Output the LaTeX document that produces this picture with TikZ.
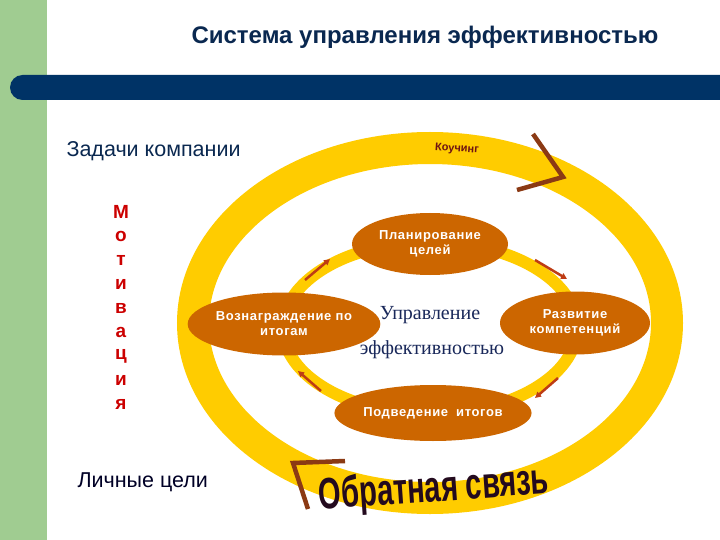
\documentclass[tikz,border=0pt]{standalone}
\usepackage{fontspec}
\setmainfont{Liberation Sans}
\newfontfamily\serifru{Liberation Serif}
\newfontfamily\spacedfont{Liberation Sans}[LetterSpace=5]
\usetikzlibrary{arrows.meta,shapes.geometric}
\definecolor{ringyellow}{RGB}{255,204,0}
\definecolor{nodeorange}{RGB}{204,102,0}
\definecolor{chevbrown}{RGB}{139,58,20}
\definecolor{arrowred}{RGB}{190,60,20}
\definecolor{titleblue}{RGB}{10,40,80}
\definecolor{barblue}{RGB}{0,51,102}
\definecolor{stripgreen}{RGB}{160,204,145}
\definecolor{motivred}{RGB}{204,0,0}
\definecolor{centerblue}{RGB}{25,40,90}
\definecolor{fbdark}{RGB}{35,10,30}
\definecolor{coachred}{RGB}{110,20,20}
\begin{document}
\begin{tikzpicture}[x=1pt,y=-1pt,
  ell/.style={ellipse, fill=nodeorange, text=white, inner sep=0pt, align=center,
    font=\spacedfont\bfseries\fontsize{13}{15}\selectfont},
  chevron/.style={chevbrown, line width=4.5pt},
  ringarrow/.style={arrowred, line width=2.5pt, -{Triangle[length=6pt,width=6pt]}},
  lefttext/.style={text=titleblue, font=\fontsize{21.5}{21.5}\selectfont},
  motiv/.style={text=motivred, font=\bfseries\fontsize{19}{19}\selectfont}]
\useasboundingbox (0,0) rectangle (720,540);
\fill[white] (0,0) rectangle (720,540);
\fill[stripgreen] (0,0) rectangle (47,540);
\fill[barblue, rounded corners=12.5pt] (10,75) rectangle (760,100);
\node[text=titleblue, font=\bfseries\fontsize{24}{24}\selectfont] (title) at (425,37) {Система управления эффективностью};
% outer ring
\draw[ringyellow, line width=32pt] (430,323) ellipse [x radius=237pt, y radius=175pt];
\coordinate (c1a) at (533,134);
\coordinate (c1b) at (563,177);
\coordinate (c1c) at (517,190);
\draw[chevron] (c1a) -- (c1b) -- (c1c);
\coordinate (c2a) at (345,461);
\coordinate (c2b) at (293,463);
\coordinate (c2c) at (308,509);
\draw[chevron] (c2a) -- (c2b) -- (c2c);
\node[text=coachred, rotate=-4, font=\bfseries\fontsize{11}{11}\selectfont] (coach) at (457,149) {Коучинг};
\node[text=fbdark, rotate=4, font=\bfseries\fontsize{44}{44}\selectfont] (fb) at (434,490) {\scalebox{0.66}[1]{Обратная связь}};
% inner ring
\draw[ringyellow, line width=12pt] (430,328) ellipse [x radius=147pt, y radius=86pt];
\coordinate (a1s) at (305,280); \coordinate (a1e) at (330,259);
\coordinate (a2s) at (535,260); \coordinate (a2e) at (567,279);
\coordinate (a3s) at (558,378); \coordinate (a3e) at (535,398);
\coordinate (a4s) at (321,391); \coordinate (a4e) at (298,371);
\draw[ringarrow] (a1s) -- (a1e);
\draw[ringarrow] (a2s) -- (a2e);
\draw[ringarrow] (a3s) -- (a3e);
\draw[ringarrow] (a4s) -- (a4e);
% nodes
\node[ell, minimum width=156pt, minimum height=62pt] (plan) at (430,244) {Планирование\\целей};
\node[ell, minimum width=158pt, minimum height=63pt] (reward) at (284,324) {Вознаграждение по\\итогам};
\node[ell, minimum width=150pt, minimum height=63pt] (dev) at (575,323) {Развитие\\компетенций};
\node[ell, minimum width=156pt, minimum height=56pt] (review) at (433,413) {Подведение\hspace{8pt}итогов};
\node[text=centerblue, font=\serifru\fontsize{20}{20}\selectfont] (c1) at (430,315) {Управление};
\node[text=centerblue, font=\serifru\fontsize{20}{20}\selectfont] (c2) at (432,350) {эффективностью};
% left texts
\node[lefttext, anchor=west] (tasks) at (63,151) {Задачи компании};
\node[lefttext, anchor=west, text=black!85!blue] (goals) at (74,482) {Личные цели};
\foreach \ch [count=\i] in {М,о,т,и,в,а,ц,и,я} {
  \node[motiv] (m\i) at (121,{212+24.1*(\i-1)}) {\ch};
}
\end{tikzpicture}
\end{document}
